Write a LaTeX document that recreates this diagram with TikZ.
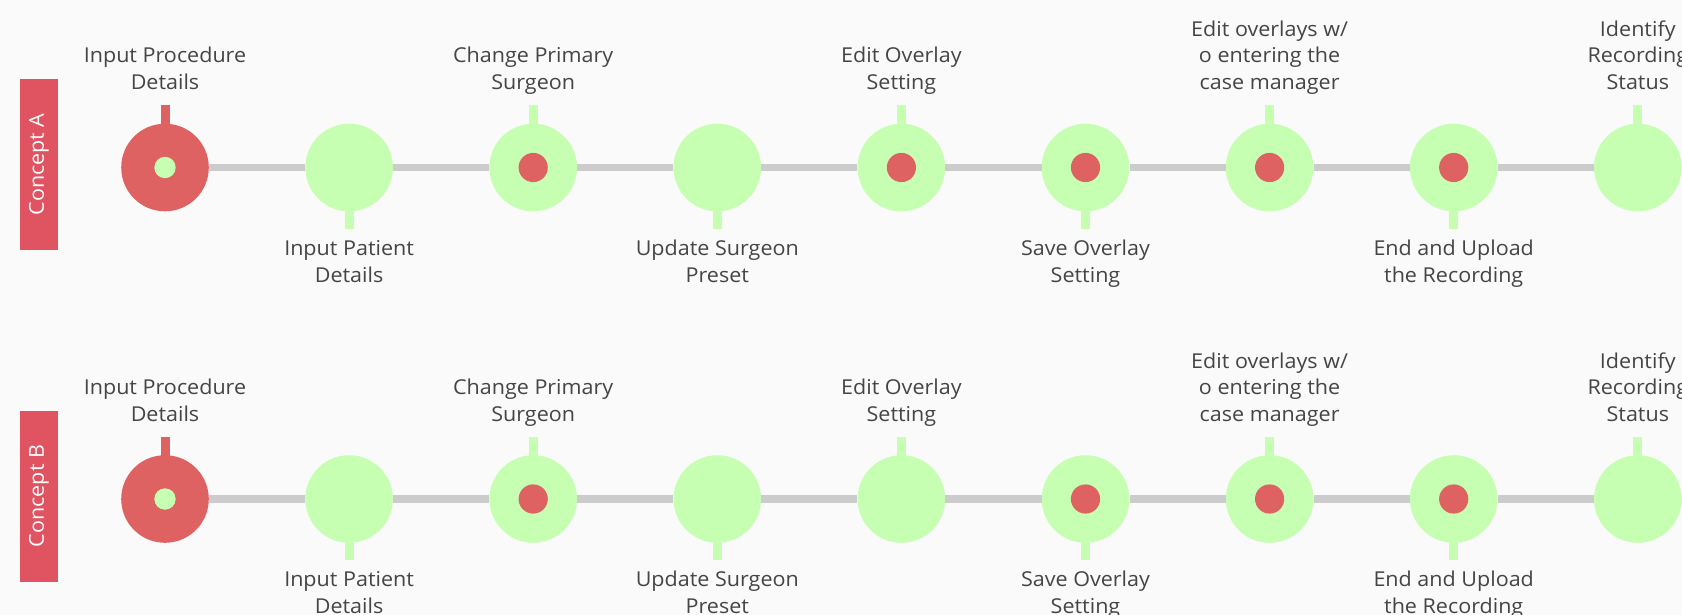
\documentclass[tikz,border=0pt]{standalone}
\usepackage{fontspec}
\setmainfont[FakeStretch=1.05]{Open Sans}
\definecolor{bg}{HTML}{FAFAFA}
\definecolor{cred}{HTML}{DE6262}
\definecolor{boxred}{HTML}{E05361}
\definecolor{cgreen}{HTML}{C6FFB1}
\definecolor{track}{HTML}{CCCCCC}
\definecolor{txt}{HTML}{454545}
\tikzset{
  stepc/.style={circle, minimum size=87.6pt, inner sep=0pt, fill=cgreen},
  kindp/.style={stepc},
  kindr/.style={stepc, fill=cred, path picture={\fill[cgreen] (path picture bounding box.center) circle (10.7pt);}},
  kindd/.style={stepc, path picture={\fill[cred] (path picture bounding box.center) circle (14.6pt);}},
  trackline/.style={draw=track, line width=7.7pt},
  tickline/.style={line width=9pt},
  labfont/.style={font=\fontsize{20.5}{26.5}\selectfont, text=txt, align=center, inner sep=0pt},
  toplab/.style={labfont, anchor=south},
  botlab/.style={labfont, anchor=north},
  conbox/.style={fill=boxred, text=white, rotate=90, minimum width=171pt, minimum height=38pt, inner sep=0pt, font=\fontsize{20.5}{24}\selectfont}
}
\newcommand\steprow[8]{%
  % #1 prefix, #2 circle centre y, #3 type list, #4 top label south y, #5 bottom label north y, #6 top labels, #7 bottom labels, #8 concept
  \node[conbox] (#1con) at (39,{#2-3}) {#8};
  \foreach \i/\t in {#3} {
    \node[kind\t] (#1\i) at ({165+184.1*(\i-1)}, #2) {};
  }
  \foreach \i in {1,...,8} {
    \pgfmathtruncatemacro\j{\i+1}
    \draw[trackline] (#1\i) -- (#1\j);
  }
  \foreach \i/\c/\lab in {#6} {
    \draw[tickline, draw=\c] ([yshift=-2pt]#1\i.north) -- ++(0,-20.5);
    \node[toplab] (#1t\i) at ({165+184.1*(\i-1)}, #4) {\lab\strut};
  }
  \foreach \i/\lab in {#7} {
    \draw[tickline, draw=cgreen] ([yshift=2pt]#1\i.south) -- ++(0,19);
    \node[botlab] (#1b\i) at ({165+184.1*(\i-1)}, #5) {\strut\lab};
  }
}
\begin{document}
\begin{tikzpicture}[x=1pt,y=-1pt]
\useasboundingbox (0,0) rectangle (1682,615);
\fill[bg] (0,0) rectangle (1682,615);
\clip (0,0) rectangle (1682,615);
\steprow{A}{167.5}{1/r,2/p,3/d,4/p,5/d,6/d,7/d,8/d,9/p}{97.5}{236.75}
  {1/cred/{Input Procedure\\Details}, 3/cgreen/{Change Primary\\Surgeon}, 5/cgreen/{Edit Overlay\\Setting}, 7/cgreen/{Edit overlays w/\\o entering the\\case manager}, 9/cgreen/{Identify\\Recording\\Status}}
  {2/{Input Patient\\Details}, 4/{Update Surgeon\\Preset}, 6/{Save Overlay\\Setting}, 8/{End and Upload\\the Recording}}
  {Concept A}
\steprow{B}{499}{1/r,2/p,3/d,4/p,5/p,6/d,7/d,8/d,9/p}{429.2}{568.15}
  {1/cred/{Input Procedure\\Details}, 3/cgreen/{Change Primary\\Surgeon}, 5/cgreen/{Edit Overlay\\Setting}, 7/cgreen/{Edit overlays w/\\o entering the\\case manager}, 9/cgreen/{Identify\\Recording\\Status}}
  {2/{Input Patient\\Details}, 4/{Update Surgeon\\Preset}, 6/{Save Overlay\\Setting}, 8/{End and Upload\\the Recording}}
  {Concept B}
\end{tikzpicture}
\end{document}
